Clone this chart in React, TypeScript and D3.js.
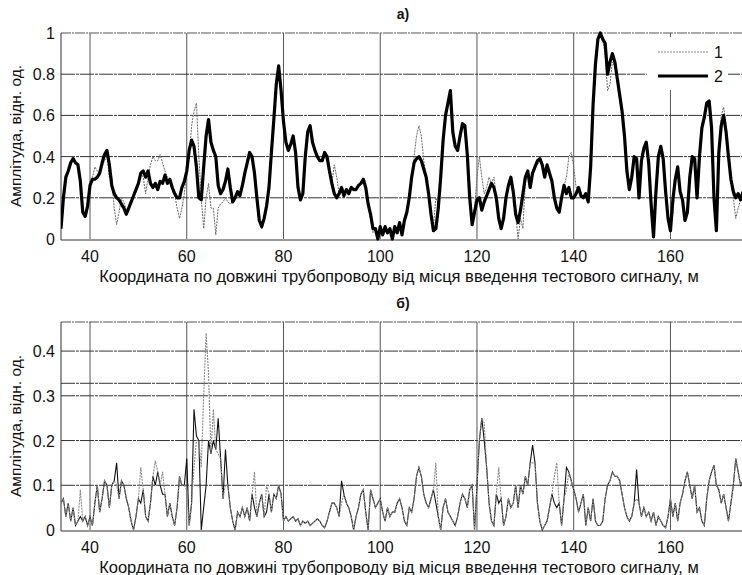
import React from 'react';
import * as d3 from 'd3';

// sample grid: 34 .. 175 m, step 0.5 m
const xStart = 34;
const xStep = 0.5;

// top panel (а) — series 1 (thin dotted) and series 2 (thick)
const topS2 = [
  0.05, 0.2, 0.3, 0.33, 0.37, 0.39, 0.37, 0.36, 0.28, 0.13, 0.11, 0.16, // 34..39.5
  0.26, 0.29, 0.29, 0.3, 0.32, 0.37, 0.41, 0.43, 0.36, 0.26, 0.22, 0.2, // 40..45.5
  0.19, 0.17, 0.15, 0.12, 0.15, 0.18, 0.21, 0.24, 0.27, 0.32, 0.33, 0.3, // 46..51.5
  0.33, 0.27, 0.25, 0.27, 0.24, 0.28, 0.27, 0.31, 0.27, 0.29, 0.25, 0.22, // 52..57.5
  0.2, 0.2, 0.25, 0.28, 0.33, 0.43, 0.48, 0.45, 0.35, 0.2, 0.19, 0.35, // 58..63.5
  0.5, 0.58, 0.47, 0.43, 0.4, 0.26, 0.22, 0.24, 0.28, 0.34, 0.25, 0.18, // 64..69.5
  0.2, 0.23, 0.21, 0.26, 0.32, 0.37, 0.42, 0.4, 0.32, 0.2, 0.09, 0.06, // 70..75.5
  0.1, 0.16, 0.25, 0.42, 0.58, 0.75, 0.84, 0.72, 0.57, 0.47, 0.43, 0.46, // 76..81.5
  0.5, 0.42, 0.25, 0.19, 0.22, 0.4, 0.52, 0.55, 0.47, 0.43, 0.4, 0.38, // 82..87.5
  0.38, 0.42, 0.4, 0.33, 0.27, 0.22, 0.2, 0.22, 0.25, 0.21, 0.24, 0.22, // 88..93.5
  0.25, 0.24, 0.24, 0.26, 0.27, 0.29, 0.25, 0.17, 0.12, 0.05, 0.05, 0.0, // 94..99.5
  0.06, 0.02, 0.06, 0.03, 0.05, 0.0, 0.06, 0.03, 0.08, 0.02, 0.09, 0.13, // 100..105.5
  0.2, 0.3, 0.37, 0.39, 0.4, 0.38, 0.34, 0.3, 0.22, 0.12, 0.04, 0.05, // 106..111.5
  0.15, 0.3, 0.48, 0.6, 0.66, 0.72, 0.52, 0.45, 0.43, 0.5, 0.56, 0.55, // 112..117.5
  0.41, 0.2, 0.07, 0.13, 0.19, 0.2, 0.14, 0.18, 0.21, 0.24, 0.27, 0.25, // 118..123.5
  0.2, 0.1, 0.05, 0.1, 0.2, 0.26, 0.3, 0.23, 0.12, 0.08, 0.14, 0.22, // 124..129.5
  0.3, 0.33, 0.25, 0.32, 0.35, 0.38, 0.39, 0.36, 0.3, 0.36, 0.32, 0.28, // 130..135.5
  0.2, 0.15, 0.13, 0.2, 0.26, 0.22, 0.25, 0.2, 0.2, 0.22, 0.25, 0.21, // 136..141.5
  0.2, 0.22, 0.18, 0.35, 0.65, 0.85, 0.97, 1.0, 0.97, 0.95, 0.8, 0.86, // 142..147.5
  0.9, 0.86, 0.78, 0.7, 0.62, 0.5, 0.33, 0.24, 0.3, 0.4, 0.39, 0.2, // 148..153.5
  0.38, 0.44, 0.47, 0.37, 0.17, 0.01, 0.23, 0.4, 0.45, 0.39, 0.23, 0.1, // 154..159.5
  0.04, 0.19, 0.29, 0.35, 0.23, 0.19, 0.09, 0.13, 0.3, 0.4, 0.39, 0.2, // 160..165.5
  0.4, 0.54, 0.59, 0.66, 0.67, 0.54, 0.2, 0.04, 0.42, 0.55, 0.6, 0.52, // 166..171.5
  0.4, 0.29, 0.23, 0.2, 0.22, 0.19, 0.23, // 172..175
];

const topS1 = [
  0.05, 0.2, 0.3, 0.33, 0.37, 0.39, 0.37, 0.36, 0.28, 0.13, 0.11, 0.16,
  0.26, 0.3, 0.35, 0.33, 0.32, 0.35, 0.38, 0.4, 0.3, 0.3, 0.15, 0.07,
  0.13, 0.2, 0.18, 0.14, 0.15, 0.18, 0.21, 0.24, 0.27, 0.32, 0.3, 0.22,
  0.3, 0.36, 0.4, 0.38, 0.38, 0.41, 0.37, 0.33, 0.3, 0.29, 0.25, 0.22,
  0.15, 0.1, 0.15, 0.22, 0.33, 0.4, 0.55, 0.62, 0.66, 0.4, 0.2, 0.05,
  0.2, 0.27, 0.15, 0.15, 0.02, 0.15, 0.17, 0.18, 0.2, 0.18, 0.17, 0.18,
  0.2, 0.23, 0.21, 0.26, 0.32, 0.37, 0.4, 0.38, 0.32, 0.2, 0.09, 0.05,
  0.1, 0.16, 0.25, 0.42, 0.58, 0.73, 0.8, 0.7, 0.57, 0.47, 0.43, 0.46,
  0.5, 0.42, 0.25, 0.19, 0.22, 0.4, 0.52, 0.54, 0.47, 0.43, 0.4, 0.38,
  0.38, 0.4, 0.38, 0.33, 0.27, 0.36, 0.3, 0.22, 0.25, 0.21, 0.24, 0.22,
  0.25, 0.24, 0.24, 0.26, 0.27, 0.29, 0.25, 0.17, 0.1, 0.03, 0.05, 0.0,
  0.04, 0.02, 0.05, 0.03, 0.05, 0.0, 0.06, 0.03, 0.08, 0.02, 0.09, 0.13,
  0.2, 0.3, 0.4, 0.5, 0.55, 0.5, 0.38, 0.3, 0.22, 0.12, 0.06, 0.2,
  0.17, 0.3, 0.48, 0.6, 0.66, 0.7, 0.52, 0.45, 0.43, 0.48, 0.54, 0.53,
  0.41, 0.2, 0.1, 0.15, 0.3, 0.4, 0.3, 0.22, 0.25, 0.3, 0.27, 0.3,
  0.2, 0.1, 0.05, 0.1, 0.2, 0.26, 0.28, 0.23, 0.12, 0.0, 0.1, 0.05,
  0.28, 0.33, 0.25, 0.32, 0.35, 0.36, 0.38, 0.36, 0.3, 0.34, 0.3, 0.28,
  0.2, 0.15, 0.13, 0.2, 0.26, 0.3, 0.4, 0.42, 0.35, 0.25, 0.25, 0.21,
  0.2, 0.22, 0.18, 0.35, 0.65, 0.85, 0.97, 1.0, 0.97, 0.9, 0.72, 0.75,
  0.86, 0.84, 0.76, 0.68, 0.6, 0.5, 0.33, 0.24, 0.3, 0.4, 0.39, 0.2,
  0.38, 0.44, 0.45, 0.37, 0.17, 0.05, 0.23, 0.4, 0.44, 0.39, 0.23, 0.1,
  0.08, 0.12, 0.29, 0.33, 0.23, 0.19, 0.09, 0.15, 0.32, 0.4, 0.38, 0.2,
  0.4, 0.56, 0.6, 0.64, 0.65, 0.54, 0.2, 0.08, 0.45, 0.6, 0.64, 0.55,
  0.4, 0.29, 0.2, 0.1, 0.15, 0.19, 0.23,
];

// bottom panel (б)
const botS1 = [
  0.06, 0.07, 0.03, 0.06, 0.02, 0.05, 0.01, 0.02, 0.09, 0.02, 0.03, 0.01, // 34..39.5
  0.03, 0.01, 0.06, 0.1, 0.04, 0.07, 0.11, 0.1, 0.05, 0.1, 0.11, 0.1, // 40..45.5
  0.07, 0.11, 0.1, 0.07, 0.05, 0.02, 0.0, 0.03, 0.07, 0.14, 0.09, 0.03, // 46..51.5
  0.02, 0.06, 0.12, 0.155, 0.13, 0.1, 0.13, 0.08, 0.03, 0.06, 0.03, 0.01, // 52..57.5
  0.05, 0.12, 0.1, 0.1, 0.09, 0.01, 0.06, 0.14, 0.2, 0.2, 0.14, 0.3, // 58..63.5
  0.44, 0.35, 0.17, 0.27, 0.18, 0.17, 0.16, 0.07, 0.1, 0.1, 0.05, 0.02, // 64..69.5
  0.0, 0.04, 0.03, 0.05, 0.03, 0.05, 0.02, 0.08, 0.13, 0.03, 0.06, 0.08, // 70..75.5
  0.03, 0.1, 0.08, 0.04, 0.08, 0.07, 0.1, 0.08, 0.02, 0.03, 0.02, 0.025, // 76..81.5
  0.03, 0.02, 0.025, 0.01, 0.02, 0.015, 0.02, 0.01, 0.015, 0.02, 0.025, 0.02, // 82..87.5
  0.01, 0.005, 0.02, 0.04, 0.06, 0.06, 0.05, 0.03, 0.06, 0.08, 0.06, 0.05, // 88..93.5
  0.03, 0.0, 0.03, 0.05, 0.08, 0.09, 0.04, 0.0, 0.09, 0.07, 0.05, 0.06, // 94..99.5
  0.07, 0.04, 0.02, 0.05, 0.03, 0.04, 0.04, 0.06, 0.07, 0.05, 0.02, 0.01, // 100..105.5
  0.05, 0.04, 0.07, 0.12, 0.14, 0.12, 0.08, 0.06, 0.05, 0.07, 0.09, 0.15, // 106..111.5
  0.03, 0.0, 0.05, 0.07, 0.04, 0.03, 0.02, 0.01, 0.03, 0.06, 0.08, 0.07, // 112..117.5
  0.05, 0.09, 0.1, 0.0, 0.1, 0.2, 0.25, 0.24, 0.14, 0.06, 0.02, 0.01, // 118..123.5
  0.08, 0.14, 0.07, 0.01, 0.03, 0.07, 0.05, 0.06, 0.1, 0.05, 0.1, 0.08, // 124..129.5
  0.12, 0.1, 0.15, 0.15, 0.15, 0.06, 0.02, 0.0, 0.01, 0.02, 0.05, 0.08, // 130..135.5
  0.12, 0.15, 0.06, 0.01, 0.07, 0.09, 0.13, 0.11, 0.09, 0.07, 0.04, 0.06, // 136..141.5
  0.08, 0.01, 0.05, 0.02, 0.07, 0.02, 0.01, 0.01, 0.02, 0.07, 0.1, 0.11, // 142..147.5
  0.13, 0.12, 0.12, 0.11, 0.08, 0.05, 0.03, 0.02, 0.03, 0.06, 0.07, 0.06, // 148..153.5
  0.03, 0.05, 0.03, 0.04, 0.02, 0.04, 0.01, 0.03, 0.02, 0.01, 0.005, 0.03, // 154..159.5
  0.07, 0.03, 0.06, 0.02, 0.06, 0.08, 0.11, 0.13, 0.1, 0.07, 0.1, 0.04, // 160..165.5
  0.05, 0.02, 0.01, 0.07, 0.11, 0.13, 0.145, 0.1, 0.09, 0.06, 0.08, 0.05, // 166..171.5
  0.02, 0.06, 0.1, 0.16, 0.13, 0.1, 0.11, // 172..175
];

const botS2 = [
  0.06, 0.07, 0.03, 0.06, 0.02, 0.05, 0.01, 0.02, 0.03, 0.02, 0.03, 0.01,
  0.03, 0.01, 0.06, 0.1, 0.04, 0.07, 0.11, 0.1, 0.05, 0.1, 0.11, 0.15,
  0.07, 0.11, 0.1, 0.07, 0.05, 0.02, 0.0, 0.03, 0.07, 0.06, 0.09, 0.03,
  0.02, 0.06, 0.12, 0.1, 0.13, 0.1, 0.08, 0.08, 0.03, 0.06, 0.03, 0.01,
  0.05, 0.12, 0.1, 0.1, 0.16, 0.01, 0.06, 0.27, 0.21, 0.2, 0.0, 0.05,
  0.1, 0.2, 0.17, 0.2, 0.18, 0.25, 0.16, 0.07, 0.18, 0.1, 0.05, 0.02,
  0.0, 0.04, 0.03, 0.05, 0.03, 0.05, 0.02, 0.08, 0.05, 0.03, 0.06, 0.08,
  0.03, 0.04, 0.08, 0.04, 0.08, 0.07, 0.1, 0.08, 0.02, 0.03, 0.02, 0.025,
  0.03, 0.02, 0.025, 0.01, 0.02, 0.015, 0.02, 0.01, 0.015, 0.02, 0.025, 0.02,
  0.01, 0.005, 0.02, 0.04, 0.06, 0.06, 0.05, 0.03, 0.11, 0.08, 0.06, 0.05,
  0.03, 0.0, 0.03, 0.05, 0.08, 0.09, 0.04, 0.0, 0.09, 0.07, 0.05, 0.06,
  0.07, 0.04, 0.02, 0.05, 0.03, 0.04, 0.04, 0.06, 0.07, 0.05, 0.02, 0.01,
  0.05, 0.04, 0.07, 0.12, 0.14, 0.12, 0.08, 0.06, 0.05, 0.07, 0.09, 0.06,
  0.03, 0.0, 0.05, 0.07, 0.04, 0.03, 0.02, 0.01, 0.03, 0.06, 0.08, 0.07,
  0.05, 0.09, 0.1, 0.0, 0.1, 0.2, 0.25, 0.2, 0.14, 0.06, 0.02, 0.01,
  0.08, 0.06, 0.07, 0.01, 0.03, 0.07, 0.05, 0.06, 0.1, 0.05, 0.1, 0.08,
  0.12, 0.1, 0.15, 0.19, 0.15, 0.06, 0.02, 0.0, 0.01, 0.02, 0.05, 0.08,
  0.06, 0.05, 0.06, 0.01, 0.07, 0.14, 0.13, 0.11, 0.09, 0.07, 0.04, 0.06,
  0.08, 0.01, 0.05, 0.02, 0.07, 0.02, 0.01, 0.01, 0.02, 0.07, 0.1, 0.11,
  0.13, 0.12, 0.12, 0.11, 0.08, 0.05, 0.03, 0.02, 0.03, 0.06, 0.135, 0.06,
  0.03, 0.05, 0.03, 0.04, 0.02, 0.04, 0.01, 0.03, 0.02, 0.01, 0.005, 0.03,
  0.07, 0.03, 0.06, 0.02, 0.06, 0.08, 0.11, 0.13, 0.1, 0.07, 0.1, 0.04,
  0.05, 0.02, 0.01, 0.07, 0.11, 0.13, 0.145, 0.1, 0.09, 0.06, 0.08, 0.05,
  0.02, 0.06, 0.1, 0.16, 0.13, 0.1, 0.11,
];

const xTicks = [40, 60, 80, 100, 120, 140, 160];
const topYTicks = [0, 0.2, 0.4, 0.6, 0.8, 1];
const topYGrid = [0.2, 0.4, 0.6, 0.8];
const botYTicks = [0, 0.1, 0.2, 0.3, 0.4];
const botYGrid = [0.1, 0.2, 0.3, 0.328, 0.4];
const legendLabels = ['1', '2'];

const xLabel = 'Координата по довжині трубопроводу від місця введення тестового сигналу, м';
const yLabel = 'Амплітуда, відн. од.';

const W = 742, H = 575;
const left = 61, right = 743;
const font = '"Liberation Sans", Arial, sans-serif';

type Pt = [number, number];
const toPts = (vals: number[]): Pt[] => vals.map((v, i) => [xStart + i * xStep, v]);

function Panel({ top, bottom, yMax, yTicks, yGrid, s1, s2, thick, title, legend }: {
  top: number; bottom: number; yMax: number; yTicks: number[]; yGrid: number[];
  s1: number[]; s2: number[]; thick: boolean; title: string; legend: boolean;
}) {
  const x = d3.scaleLinear().domain([34, 175]).range([left, right]);
  const y = d3.scaleLinear().domain([0, yMax]).range([bottom, top]);
  const line = d3.line<Pt>().x(d => x(d[0])).y(d => y(d[1]));
  const clipId = 'clip' + top;
  const fmt = (v: number) => (v === 0 ? '0' : v === 1 ? '1' : String(v));
  return (
    <g>
      <defs>
        <clipPath id={clipId}>
          <rect x={left} y={top - 2} width={right - left} height={bottom - top + 4} />
        </clipPath>
      </defs>
      {/* grid */}
      {xTicks.map(t => (
        <line key={'vx' + t} x1={x(t)} x2={x(t)} y1={top} y2={bottom} stroke="#555" strokeWidth={1} />
      ))}
      {yGrid.map(t => (
        <line key={'hy' + t} x1={left} x2={right} y1={y(t)} y2={y(t)} stroke="#333" strokeWidth={1}
          strokeDasharray="14,1,3,1" />
      ))}
      {/* frame */}
      <line x1={left} x2={right} y1={top} y2={top} stroke="#555" strokeWidth={1} strokeDasharray="10,1,2,1" />
      <line x1={left} x2={right} y1={bottom + 1} y2={bottom + 1} stroke="#333" strokeWidth={1} />
      <line x1={left} x2={left} y1={top} y2={bottom + 1} stroke="#333" strokeWidth={1} />
      {/* series */}
      <g clipPath={`url(#${clipId})`}>
        {thick ? (
          <>
            <path d={line(toPts(s1)) ?? ''} fill="none" stroke="#666" strokeWidth={1} strokeDasharray="2,1" />
            <path d={line(toPts(s2)) ?? ''} fill="none" stroke="#000" strokeWidth={3.2} strokeLinejoin="round" />
          </>
        ) : (
          <>
            <path d={line(toPts(s2)) ?? ''} fill="none" stroke="#111" strokeWidth={1.1} />
            <path d={line(toPts(s1)) ?? ''} fill="none" stroke="#888" strokeWidth={1.1} strokeDasharray="2,1" />
          </>
        )}
      </g>
      {/* legend */}
      {legend && (
        <g>
          <rect x={647} y={37} width={81} height={53} fill="#fff" />
          {legendLabels.map((l, i) => (
            <g key={l}>
              <line x1={658} x2={708} y1={52 + i * 24} y2={52 + i * 24}
                stroke={i === 0 ? '#888' : '#000'} strokeWidth={i === 0 ? 1 : 3.2}
                strokeDasharray={i === 0 ? '2,1' : undefined} />
              <text x={714} y={58 + i * 24} fontSize={16} fontFamily={font} fill="#111">{l}</text>
            </g>
          ))}
        </g>
      )}
      {/* ticks */}
      {yTicks.map(t => (
        <text key={'ty' + t} x={55} y={y(t) + 6} textAnchor="end" fontSize={16} fontFamily={font} fill="#111">
          {fmt(t)}
        </text>
      ))}
      {xTicks.map(t => (
        <text key={'tx' + t} x={x(t)} y={bottom + 23} textAnchor="middle" fontSize={16} fontFamily={font} fill="#111">
          {t}
        </text>
      ))}
      <text x={399} y={bottom + 43} textAnchor="middle" fontSize={16.5} fontFamily={font} fill="#111">{xLabel}</text>
      <text transform={`translate(21,${(top + bottom) / 2}) rotate(-90)`} textAnchor="middle" fontSize={15.5}
        fontFamily={font} fill="#111">{yLabel}</text>
      <text x={403} y={top - 14} textAnchor="middle" fontSize={14} fontWeight="bold" fontFamily={font} fill="#111">{title}</text>
    </g>
  );
}

export default function App() {
  return (
    <svg width={W} height={H} style={{ position: 'absolute', left: 0, top: 0, background: '#fff' }}>
      <rect width={W} height={H} fill="#fff" />
      <Panel top={33} bottom={239} yMax={1} yTicks={topYTicks} yGrid={topYGrid}
        s1={topS1} s2={topS2} thick={true} title="а)" legend={true} />
      <Panel top={322} bottom={530} yMax={0.465} yTicks={botYTicks} yGrid={botYGrid}
        s1={botS1} s2={botS2} thick={false} title="б)" legend={false} />
    </svg>
  );
}
